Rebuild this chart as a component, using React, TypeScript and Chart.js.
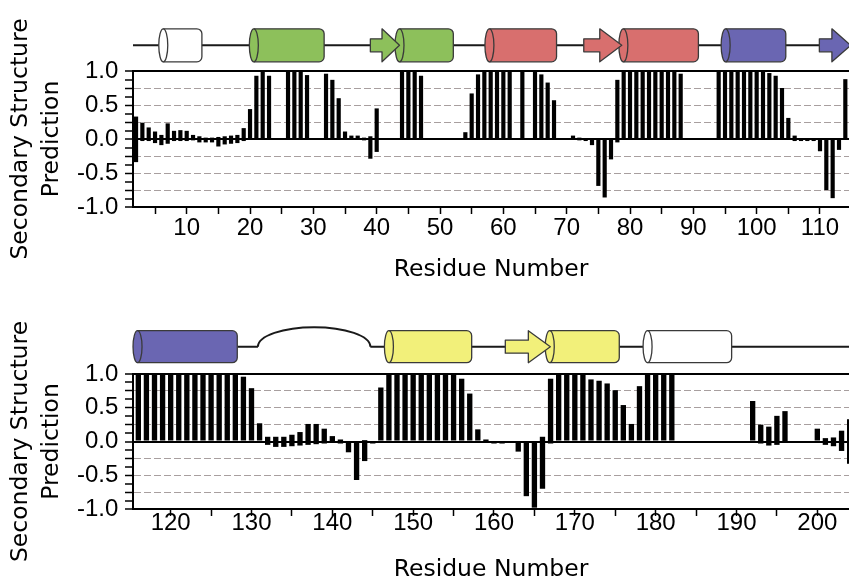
import React, { useEffect, useRef } from 'react';
import { Chart, registerables } from 'chart.js';

Chart.register(...registerables);

// ---------------- data: top panel (residues 1-114) ----------------
const TOP_RESIDUES = [
  2, 3, 4, 5, 6, 7, 8, 9, 10, 11,
  12, 13, 14, 15, 16, 17, 18, 19, 20, 21,
  22, 23, 26, 27, 28, 29, 32, 33, 34, 35,
  36, 37, 38, 39, 40, 44, 45, 46, 47, 54,
  55, 56, 57, 58, 59, 60, 61, 63, 65, 66,
  67, 68, 71, 72, 73, 74, 75, 76, 77, 78,
  79, 80, 81, 82, 83, 84, 85, 86, 87, 88,
  94, 95, 96, 97, 98, 99, 100, 101, 102, 103,
  104, 105, 106, 107, 108, 109, 110, 111, 112, 113, 114,
];
const TOP_HIGH = [
  0.33, 0.24, 0.17, 0.11, 0.06, 0.23, 0.12, 0.13, 0.12, 0.06,
  0.04, 0.02, 0.02, 0.03, 0.04, 0.05, 0.06, 0.16, 0.44, 0.93,
  1, 0.93, 1, 1, 1, 0.94, 0.96, 0.87, 0.6, 0.11,
  0.05, 0.05, 0.02, 0.04, 0.45, 1, 1, 1, 0.93, 0.1,
  0.67, 0.95, 1, 1, 1, 1, 1, 1, 1, 0.95,
  0.83, 0.57, 0.05, 0.02, 0, 0, 0, 0, 0, 0.87,
  1, 1, 1, 1, 1, 1, 1, 1, 1, 0.96,
  1, 1, 1, 1, 1, 1, 1, 1, 0.97, 0.93,
  0.75, 0.31, 0.05, 0.01, 0.01, 0, 0, 0, 0, 0, 0.88,
];
const TOP_LOW = [
  -0.34, -0.03, -0.03, -0.06, -0.09, -0.07, -0.03, -0.03, -0.03, -0.02,
  -0.05, -0.05, -0.05, -0.11, -0.08, -0.07, -0.06, -0.03, -0.01, 0,
  0, 0, 0, 0, 0, 0, 0, 0, 0, 0,
  -0.01, -0.01, -0.02, -0.29, -0.19, 0, 0, 0, 0, 0,
  0, 0, 0, 0, 0, 0, 0, 0, 0, 0,
  0, 0, -0.01, -0.02, -0.03, -0.09, -0.69, -0.86, -0.3, -0.05,
  0, 0, 0, 0, 0, 0, 0, 0, 0, 0,
  0, 0, 0, 0, 0, 0, 0, 0, 0, 0,
  0, 0, -0.03, -0.03, -0.03, -0.03, -0.18, -0.75, -0.87, -0.16, 0,
];

// ---------------- data: bottom panel (residues 115-204) ----------------
const BOT_RESIDUES = [
  116, 117, 118, 119, 120, 121, 122, 123, 124, 125,
  126, 127, 128, 129, 130, 131, 132, 133, 134, 135,
  136, 137, 138, 139, 140, 141, 142, 143, 144, 145,
  146, 147, 148, 149, 150, 151, 152, 153, 154, 155,
  156, 157, 158, 159, 160, 161, 162, 163, 164, 165,
  166, 167, 168, 169, 170, 171, 172, 173, 174, 175,
  176, 177, 178, 179, 180, 181, 182, 192, 193, 194,
  195, 196, 200, 201, 202, 203, 204,
];
const BOT_HIGH = [
  1, 1, 1, 1, 1, 1, 1, 1, 1, 1,
  1, 1, 1, 0.96, 0.79, 0.27, 0.07, 0.07, 0.07, 0.1,
  0.14, 0.26, 0.26, 0.19, 0.08, 0.03, 0, 0, 0.02, 0,
  0.8, 1, 1, 1, 1, 1, 1, 1, 1, 1,
  0.93, 0.71, 0.18, 0.03, 0, 0, 0, 0, 0, 0,
  0.07, 0.93, 1, 1, 1, 1, 0.92, 0.9, 0.86, 0.76,
  0.54, 0.26, 0.82, 1, 1, 1, 0.99, 0.6, 0.25, 0.22,
  0.38, 0.45, 0.19, 0.05, 0.06, 0.16, 0.33,
];
const BOT_LOW = [
  0, 0, 0, 0, 0, 0, 0, 0, 0, 0,
  0, 0, 0, 0, 0, 0, -0.05, -0.08, -0.08, -0.07,
  -0.06, -0.05, -0.04, -0.03, -0.02, -0.03, -0.16, -0.57, -0.29, -0.03,
  0, 0, 0, 0, 0, 0, 0, 0, 0, 0,
  0, 0, 0, -0.02, -0.03, -0.03, -0.01, -0.15, -0.81, -0.98,
  -0.7, -0.03, 0, 0, 0, 0, 0, 0, 0, 0,
  0, 0, 0, 0, 0, 0, 0, 0, -0.03, -0.06,
  -0.05, -0.02, 0, -0.05, -0.07, -0.14, -0.33,
];

// ---------------- secondary structure topology (residue ranges) ----------------
const TOP_HELIX_FROM = [6.3, 20.6, 43.6, 57.8, 78.95, 95.1];
const TOP_HELIX_TO = [12.4, 31.7, 52.1, 68.4, 90.8, 104.6];
const TOP_HELIX_DOMAIN = ['none', 'A', 'A', 'B', 'B', 'C'];
const TOP_STRAND_FROM = [39.0, 72.7, 109.9];
const TOP_STRAND_TO = [43.6, 78.7, 114.85];
const TOP_STRAND_DOMAIN = ['A', 'B', 'C'];
const TOP_COIL_FROM = [1.52];
const TOP_COIL_TO = [114.58];
const TOP_LOOP_FROM: number[] = [];
const TOP_LOOP_TO: number[] = [];

const BOT_HELIX_FROM = [115.9, 147.0, 166.9, 179.0];
const BOT_HELIX_TO = [128.24, 157.24, 175.5, 189.4];
const BOT_HELIX_DOMAIN = ['C', 'D', 'D', 'none'];
const BOT_STRAND_FROM = [161.4];
const BOT_STRAND_TO = [166.97];
const BOT_STRAND_DOMAIN = ['D'];
const BOT_COIL_FROM = [128.24, 144.7];
const BOT_COIL_TO = [130.8, 203.92];
const BOT_LOOP_FROM = [130.8];
const BOT_LOOP_TO = [144.7];

// ---------------- styles ----------------
const TICK_FONT = '"Liberation Sans", Arial, Helvetica, sans-serif';
const TITLE_FONT = '"DejaVu Sans", "Liberation Sans", sans-serif';
const DOMAIN_FILL: Record<string, string> = {
  none: '#ffffff',
  A: '#8dc05b',
  B: '#d86f6e',
  C: '#6a66b2',
  D: '#f2f07a',
};
const OUTLINE = '#3a3a3a';
const COIL = '#1a1a1a';
const GRID_GRAY = '#a89f9f';

const near = (v: number, t: number) => Math.abs(v - t) < 1e-6;
const isMult = (v: number, m: number) => Math.abs(v / m - Math.round(v / m)) < 1e-6;

function yGridColor(v: number | undefined) {
  if (v === undefined) return 'rgba(0,0,0,0)';
  if (near(v, 0) || near(v, 1)) return '#000000';
  if (near(v, -1)) return 'rgba(0,0,0,0)';
  if (isMult(v, 0.25)) return GRID_GRAY;
  return 'rgba(0,0,0,0)';
}
function yGridWidth(v: number | undefined) {
  if (v === undefined) return 0;
  if (near(v, 0) || near(v, 1)) return 2;
  if (near(v, -1)) return 0;
  if (isMult(v, 0.25)) return 1;
  return 0;
}
function yGridDash(v: number | undefined) {
  if (v === undefined) return [];
  if (near(v, 0) || near(v, 1) || near(v, -1)) return [];
  return [7, 3];
}

interface Topo {
  helixFrom: number[]; helixTo: number[]; helixDomain: string[];
  strandFrom: number[]; strandTo: number[]; strandDomain: string[];
  coilFrom: number[]; coilTo: number[];
  loopFrom: number[]; loopTo: number[];
  cy: number; h: number;
}

function drawCylinder(ctx: CanvasRenderingContext2D, x0: number, x1: number, cy: number, h: number, fill: string) {
  const rx = 4.5;
  const r = 5;
  const top = cy - h / 2;
  const bot = cy + h / 2;
  ctx.beginPath();
  ctx.moveTo(x0, top);
  ctx.lineTo(x1 - r, top);
  ctx.arcTo(x1, top, x1, top + r, r);
  ctx.lineTo(x1, bot - r);
  ctx.arcTo(x1, bot, x1 - r, bot, r);
  ctx.lineTo(x0, bot);
  ctx.ellipse(x0, cy, rx, h / 2, 0, Math.PI / 2, (3 * Math.PI) / 2);
  ctx.closePath();
  ctx.fillStyle = fill;
  ctx.fill();
  ctx.stroke();
  ctx.beginPath();
  ctx.ellipse(x0, cy, rx, h / 2, 0, -Math.PI / 2, Math.PI / 2);
  ctx.stroke();
}

function drawArrow(ctx: CanvasRenderingContext2D, x0: number, x1: number, cy: number, h: number, fill: string) {
  const len = x1 - x0;
  const head = Math.min(22, 0.6 * len);
  const shaft = 13;
  const xh = x1 - head;
  ctx.beginPath();
  ctx.moveTo(x0, cy - shaft / 2);
  ctx.lineTo(xh, cy - shaft / 2);
  ctx.lineTo(xh, cy - h / 2);
  ctx.lineTo(x1, cy);
  ctx.lineTo(xh, cy + h / 2);
  ctx.lineTo(xh, cy + shaft / 2);
  ctx.lineTo(x0, cy + shaft / 2);
  ctx.closePath();
  ctx.fillStyle = fill;
  ctx.fill();
  ctx.stroke();
}

function topologyPlugin(t: Topo) {
  return {
    id: 'topology',
    afterDraw(chart: any) {
      const ctx: CanvasRenderingContext2D = chart.ctx;
      const xs = chart.scales.x;
      const px = (r: number) => xs.getPixelForValue(r);
      ctx.save();
      ctx.lineJoin = 'round';
      // coil
      ctx.strokeStyle = COIL;
      ctx.lineWidth = 2;
      ctx.beginPath();
      t.coilFrom.forEach((f, i) => {
        ctx.moveTo(px(f), t.cy);
        ctx.lineTo(px(t.coilTo[i]), t.cy);
      });
      ctx.stroke();
      // loops
      t.loopFrom.forEach((f, i) => {
        const a = px(f);
        const b = px(t.loopTo[i]);
        ctx.beginPath();
        ctx.ellipse((a + b) / 2, t.cy, (b - a) / 2, 19.5, 0, Math.PI, 2 * Math.PI);
        ctx.stroke();
      });
      // helices
      ctx.strokeStyle = OUTLINE;
      ctx.lineWidth = 1.3;
      t.helixFrom.forEach((f, i) => {
        drawCylinder(ctx, px(f), px(t.helixTo[i]), t.cy, t.h, DOMAIN_FILL[t.helixDomain[i]]);
      });
      // strands
      t.strandFrom.forEach((f, i) => {
        drawArrow(ctx, px(f), px(t.strandTo[i]), t.cy, t.h, DOMAIN_FILL[t.strandDomain[i]]);
      });
      ctx.restore();
    },
  };
}

interface PanelOpts {
  res: number[]; hi: number[]; lo: number[];
  xMin: number; xMax: number;
  padTop: number; xAxisHeight: number;
  xTickPadding: number; xTitlePadBottom: number;
  topo: Topo;
}

function buildChart(canvas: HTMLCanvasElement, o: PanelOpts) {
  return new Chart(canvas, {
    type: 'bar',
    data: {
      datasets: [
        {
          data: o.res.map((r, i) => ({ x: r, y: [o.lo[i], o.hi[i]] })) as any,
          backgroundColor: '#000000',
          borderWidth: 0,
          barPercentage: 0.66,
          categoryPercentage: 1,
        },
      ],
    },
    options: {
      responsive: false,
      animation: false,
      events: [],
      layout: { padding: { top: o.padTop, left: 0, right: 0, bottom: 0 } },
      plugins: { legend: { display: false }, tooltip: { enabled: false } },
      scales: {
        x: {
          type: 'linear',
          min: o.xMin,
          max: o.xMax,
          offset: false,
          afterFit: (s: any) => { s.height = o.xAxisHeight; },
          ticks: {
            stepSize: 5,
            autoSkip: false,
            maxRotation: 0,
            minRotation: 0,
            includeBounds: false,
            padding: o.xTickPadding,
            color: '#000000',
            font: { size: 24, family: TICK_FONT },
            callback: (v: any) => (isMult(Number(v), 10) ? String(Math.round(Number(v))) : ''),
          },
          grid: {
            display: true,
            offset: false,
            drawOnChartArea: false,
            drawTicks: true,
            tickLength: 7,
            tickColor: '#000000',
            tickWidth: 1.5,
          },
          border: { display: true, color: '#000000', width: 2 },
          title: {
            display: true,
            text: 'Residue Number',
            color: '#000000',
            font: { family: TITLE_FONT, size: 23.5, lineHeight: 1 },
            padding: { top: 0, bottom: o.xTitlePadBottom },
          },
        },
        y: {
          type: 'linear',
          min: -1,
          max: 1,
          afterFit: (s: any) => { s.width = 133; },
          ticks: {
            stepSize: 0.125,
            autoSkip: false,
            padding: 6.7,
            color: '#000000',
            font: { size: 24, family: TICK_FONT },
            callback: (v: any) => {
              const n = Number(v);
              if (!isMult(n, 0.5)) return '';
              return near(n, 0) ? '0.0' : n.toFixed(1);
            },
          },
          grid: {
            drawTicks: true,
            tickLength: 8,
            tickColor: '#000000',
            tickWidth: 1.5,
            color: (c: any) => yGridColor(c.tick ? c.tick.value : undefined),
            lineWidth: (c: any) => yGridWidth(c.tick ? c.tick.value : undefined),
          },
          border: {
            display: true,
            color: '#000000',
            width: 2,
            dash: (c: any) => yGridDash(c.tick ? c.tick.value : undefined),
          },
          title: {
            display: true,
            text: ['Secondary Structure', 'Prediction'],
            color: '#000000',
            font: { family: TITLE_FONT, size: 23.5, lineHeight: 1.306 },
            padding: { top: 5.85, bottom: 0 },
          },
        },
      },
    } as any,
    plugins: [topologyPlugin(o.topo) as any],
  });
}

export default function App() {
  const topRef = useRef<HTMLCanvasElement>(null);
  const botRef = useRef<HTMLCanvasElement>(null);

  useEffect(() => {
    const a = buildChart(topRef.current!, {
      res: TOP_RESIDUES, hi: TOP_HIGH, lo: TOP_LOW,
      xMin: 1.52, xMax: 114.58,
      padTop: 71, xAxisHeight: 84,
      xTickPadding: 0, xTitlePadBottom: 9,
      topo: {
        helixFrom: TOP_HELIX_FROM, helixTo: TOP_HELIX_TO, helixDomain: TOP_HELIX_DOMAIN,
        strandFrom: TOP_STRAND_FROM, strandTo: TOP_STRAND_TO, strandDomain: TOP_STRAND_DOMAIN,
        coilFrom: TOP_COIL_FROM, coilTo: TOP_COIL_TO,
        loopFrom: TOP_LOOP_FROM, loopTo: TOP_LOOP_TO,
        cy: 45.3, h: 33,
      },
    });
    const b = buildChart(botRef.current!, {
      res: BOT_RESIDUES, hi: BOT_HIGH, lo: BOT_LOW,
      xMin: 115.34, xMax: 203.92,
      padTop: 83, xAxisHeight: 73,
      xTickPadding: -7, xTitlePadBottom: 0,
      topo: {
        helixFrom: BOT_HELIX_FROM, helixTo: BOT_HELIX_TO, helixDomain: BOT_HELIX_DOMAIN,
        strandFrom: BOT_STRAND_FROM, strandTo: BOT_STRAND_TO, strandDomain: BOT_STRAND_DOMAIN,
        coilFrom: BOT_COIL_FROM, coilTo: BOT_COIL_TO,
        loopFrom: BOT_LOOP_FROM, loopTo: BOT_LOOP_TO,
        cy: 55.7, h: 32,
      },
    });
    return () => {
      a.destroy();
      b.destroy();
    };
  }, []);

  return (
    <div style={{ position: 'absolute', left: 0, top: 0, width: 849, height: 582, background: '#ffffff', overflow: 'hidden' }}>
      <canvas ref={topRef} width={849} height={291} style={{ display: 'block', width: 849, height: 291 }} />
      <canvas ref={botRef} width={849} height={291} style={{ display: 'block', width: 849, height: 291 }} />
    </div>
  );
}
